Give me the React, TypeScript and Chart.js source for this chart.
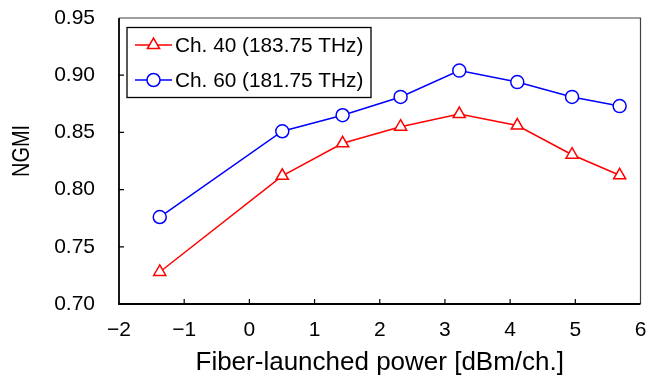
import React, { useEffect, useRef } from "react";
import { Chart, registerables } from "chart.js";

Chart.register(...registerables);

const powerCh40 = [-1.375, 0.505, 1.43, 2.32, 3.22, 4.11, 4.95, 5.68];
const ngmiCh40 = [0.728, 0.812, 0.8405, 0.855, 0.866, 0.856, 0.8305, 0.8125];
const powerCh60 = [-1.375, 0.505, 1.43, 2.32, 3.22, 4.11, 4.95, 5.68];
const ngmiCh60 = [0.776, 0.851, 0.865, 0.881, 0.904, 0.894, 0.881, 0.873];
const labelCh40 = "Ch. 40 (183.75 THz)";
const labelCh60 = "Ch. 60 (181.75 THz)";
const xTitle = "Fiber-launched power [dBm/ch.]";
const yTitle = "NGMI";

const FONT = "'Liberation Sans', Arial, sans-serif";

function drawMarker(ctx: CanvasRenderingContext2D, style: string, x: number, y: number, r: number, color: string) {
  ctx.save();
  ctx.beginPath();
  if (style === "triangle") {
    ctx.moveTo(x, y - r);
    ctx.lineTo(x + r * Math.sin(Math.PI / 3), y + r * 0.5);
    ctx.lineTo(x - r * Math.sin(Math.PI / 3), y + r * 0.5);
    ctx.closePath();
  } else {
    ctx.arc(x, y, r, 0, Math.PI * 2);
  }
  ctx.fillStyle = "#fff";
  ctx.fill();
  ctx.lineWidth = 1.5;
  ctx.strokeStyle = color;
  ctx.stroke();
  ctx.restore();
}

const framePlugin = {
  id: "frameLegend",
  afterDraw(chart: any) {
    const { ctx, chartArea, scales } = chart;
    const { left, right, top, bottom } = chartArea;
    ctx.save();
    ctx.strokeStyle = "#404040";
    ctx.lineWidth = 1.2;
    ctx.beginPath();
    ctx.moveTo(left, top);
    ctx.lineTo(right, top);
    ctx.lineTo(right, bottom);
    ctx.stroke();
    ctx.strokeStyle = "#000";
    ctx.lineWidth = 1.8;
    ctx.beginPath();
    ctx.moveTo(left, top);
    ctx.lineTo(left, bottom);
    ctx.lineTo(right, bottom);
    ctx.stroke();
    ctx.lineWidth = 1.2;
    ctx.beginPath();
    scales.x.ticks.forEach((t: any) => {
      const px = scales.x.getPixelForValue(t.value);
      if (Math.abs(px - left) < 1 || Math.abs(px - right) < 1) return;
      ctx.moveTo(px, bottom);
      ctx.lineTo(px, bottom - 5);
    });
    scales.y.ticks.forEach((t: any) => {
      const py = scales.y.getPixelForValue(t.value);
      if (Math.abs(py - top) < 1 || Math.abs(py - bottom) < 1) return;
      ctx.moveTo(left, py);
      ctx.lineTo(left + 5, py);
    });
    ctx.stroke();

    // y-axis title (slightly condensed, as in the reference)
    ctx.save();
    ctx.translate(22, 151);
    ctx.rotate(-Math.PI / 2);
    ctx.scale(0.83, 1);
    ctx.font = `24px ${FONT}`;
    ctx.fillStyle = "#000";
    ctx.textAlign = "center";
    ctx.textBaseline = "middle";
    ctx.fillText(yTitle, 0, 0);
    ctx.restore();

    // legend
    const lx = left + 8;
    const ly = top + 9.5;
    const lw = 244;
    const lh = 70;
    ctx.fillStyle = "#fff";
    ctx.fillRect(lx, ly, lw, lh);
    ctx.strokeStyle = "#000";
    ctx.lineWidth = 1.3;
    ctx.strokeRect(lx, ly, lw, lh);
    ctx.font = `20.8px ${FONT}`;
    ctx.textBaseline = "middle";
    chart.data.datasets.forEach((ds: any, i: number) => {
      const cy = ly + 17.5 + i * 35;
      const x0 = lx + 8;
      const x1 = lx + 45;
      ctx.strokeStyle = ds.borderColor;
      ctx.lineWidth = 1.5;
      ctx.beginPath();
      ctx.moveTo(x0, cy);
      ctx.lineTo(x1, cy);
      ctx.stroke();
      drawMarker(ctx, ds.pointStyle, (x0 + x1) / 2, cy, ds.pointRadius, ds.borderColor);
      ctx.fillStyle = "#000";
      ctx.fillText(ds.label, x1 + 3, cy + 1);
    });
    ctx.restore();
  },
};

export default function App() {
  const ref = useRef<HTMLCanvasElement | null>(null);
  useEffect(() => {
    if (!ref.current) return;
    const chart = new Chart(ref.current, {
      type: "line",
      data: {
        datasets: [
          {
            label: labelCh40,
            data: powerCh40.map((x, i) => ({ x, y: ngmiCh40[i] })),
            borderColor: "#ff0000",
            backgroundColor: "#ff0000",
            pointBackgroundColor: "#ffffff",
            pointBorderColor: "#ff0000",
            pointStyle: "triangle",
            pointRadius: 7,
            pointBorderWidth: 1.5,
            borderWidth: 1.5,
          },
          {
            label: labelCh60,
            data: powerCh60.map((x, i) => ({ x, y: ngmiCh60[i] })),
            borderColor: "#0000ff",
            backgroundColor: "#0000ff",
            pointBackgroundColor: "#ffffff",
            pointBorderColor: "#0000ff",
            pointStyle: "circle",
            pointRadius: 6.5,
            pointBorderWidth: 1.5,
            borderWidth: 1.5,
          },
        ],
      },
      options: {
        responsive: false,
        animation: false,
        layout: { padding: { top: 18, right: 5, left: 0, bottom: 0 } },
        plugins: { legend: { display: false }, tooltip: { enabled: false } },
        scales: {
          x: {
            type: "linear",
            min: -2,
            max: 6,
            grid: { display: false, drawTicks: false },
            border: { display: false },
            ticks: {
              stepSize: 1,
              padding: 14,
              color: "#000",
              font: { family: FONT, size: 21 },
              maxRotation: 0,
              callback: (v: any) => (Number(v) < 0 ? "\u2212" + Math.abs(Number(v)) : String(v)),
            },
            title: {
              display: true,
              text: xTitle,
              color: "#000",
              font: { family: FONT, size: 26 },
              padding: { top: 2, bottom: 2 },
            },
            afterFit: (s: any) => {
              s.height = 76;
              s.paddingLeft = 0;
              s.paddingRight = 0;
            },
          },
          y: {
            type: "linear",
            min: 0.7,
            max: 0.95,
            grid: { display: false, drawTicks: false },
            border: { display: false },
            ticks: {
              stepSize: 0.05,
              padding: 24,
              color: "#000",
              font: { family: FONT, size: 21 },
              callback: (v: any) => Number(v).toFixed(2),
            },
            title: { display: false, text: yTitle },
            afterFit: (s: any) => {
              s.width = 119;
              s.paddingTop = 0;
              s.paddingBottom = 0;
            },
          },
        },
      },
      plugins: [framePlugin],
    } as any);
    return () => chart.destroy();
  }, []);
  return (
    <div style={{ position: "absolute", left: 0, top: 0, width: 649, height: 380, background: "#fff" }}>
      <canvas ref={ref} width={649} height={380} />
    </div>
  );
}
